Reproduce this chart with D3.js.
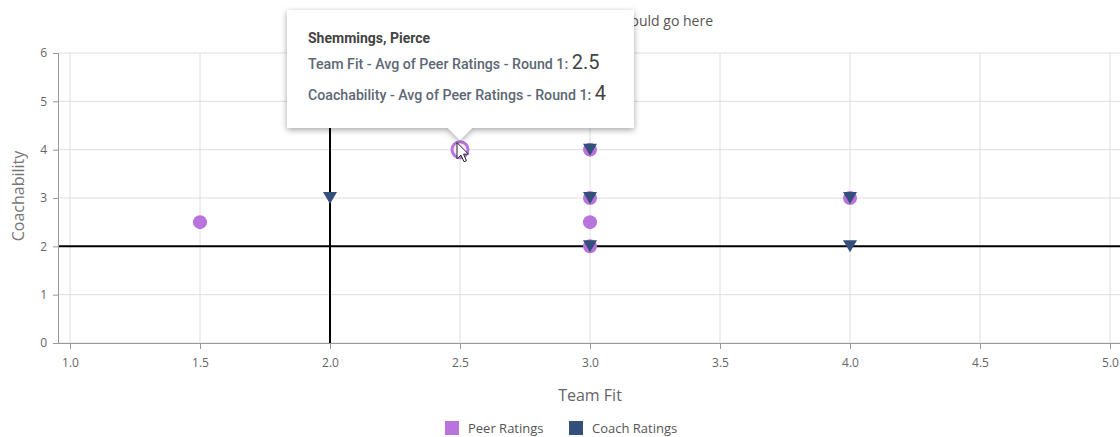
<!DOCTYPE html>
<meta charset="utf-8">
<title>Team Fit vs Coachability</title>
<body>
<script src="https://cdn.jsdelivr.net/npm/d3@7"></script>
<style>
html, body {
    margin: 0;
    background: #fff;
}
svg {
    display: block;
    font-family: "Open Sans", sans-serif;
}
.grid line {
    stroke: #dedede;
    stroke-width: 1;
}
.tick text {
    fill: #666;
    font-size: 12px;
}
</style>
<script>
var width = 1120,
    height = 437;

// data
var chartTitle = "Chart title would go here";
var seriesNames = ["Peer Ratings", "Coach Ratings"];
var peerFit = [1.5, 2.5, 3, 3, 3, 3, 4],
    peerCoach = [2.5, 4, 4, 3, 2.5, 2, 3];
var coachFit = [2, 3, 3, 3, 4, 4],
    coachCoach = [3, 4, 3, 2, 3, 2];
var xTicks = [1.0, 1.5, 2.0, 2.5, 3.0, 3.5, 4.0, 4.5, 5.0],
    yTicks = [0, 1, 2, 3, 4, 5, 6];
var refFit = 2,
    refCoach = 2;
var hoverName = "Shemmings, Pierce",
    hoverIndex = 1;

var colors = ["#b874dc", "#34507a"];

var svg = d3.select("body").append("svg")
    .attr("width", width)
    .attr("height", height);

// note: "top" is taken by window.top, so use plot* names
var plotLeft = 59, plotRight = 1125, plotTop = 53, plotBottom = 343;

var x = d3.scaleLinear().domain([1, 5]).range([70, 1110]),
    y = d3.scaleLinear().domain([0, 6]).range([plotBottom, plotTop]);

var defs = svg.append("defs");
defs.append("filter")
    .attr("id", "shadow")
    .attr("x", "-10%").attr("y", "-20%")
    .attr("width", "120%").attr("height", "150%")
  .append("feDropShadow")
    .attr("dx", 0).attr("dy", 2)
    .attr("stdDeviation", 3)
    .attr("flood-color", "#000")
    .attr("flood-opacity", 0.35);

// title
svg.append("text")
    .attr("x", 713)
    .attr("y", 26)
    .attr("text-anchor", "end")
    .attr("fill", "#555")
    .style("font-size", "14px")
    .text(chartTitle);

// grid
var grid = svg.append("g").attr("class", "grid");
grid.selectAll("line.v").data(xTicks).enter().append("line")
    .attr("class", "v")
    .attr("x1", function(d) { return x(d); })
    .attr("x2", function(d) { return x(d); })
    .attr("y1", plotTop).attr("y2", plotBottom);
grid.selectAll("line.h").data(yTicks).enter().append("line")
    .attr("class", "h")
    .attr("x1", plotLeft).attr("x2", plotRight)
    .attr("y1", function(d) { return y(d); })
    .attr("y2", function(d) { return y(d); });

// axes
var xAxis = svg.append("g")
    .attr("transform", "translate(0," + plotBottom + ")")
    .call(d3.axisBottom(x).tickValues(xTicks).tickFormat(d3.format(".1f")).tickSize(6).tickPadding(9));
var yAxis = svg.append("g")
    .attr("transform", "translate(" + plotLeft + ",0)")
    .call(d3.axisLeft(y).tickValues(yTicks).tickFormat(d3.format("d")).tickSize(6).tickPadding(6));
[xAxis, yAxis].forEach(function(a) {
    a.select(".domain").remove();
    a.selectAll(".tick line").attr("stroke", "#999");
    a.selectAll(".tick text").style("font-family", "Open Sans, sans-serif");
});
svg.append("line")
    .attr("x1", plotLeft).attr("x2", plotRight)
    .attr("y1", plotBottom + 0.5).attr("y2", plotBottom + 0.5)
    .attr("stroke", "#999");
svg.append("line")
    .attr("x1", plotLeft - 0.5).attr("x2", plotLeft - 0.5)
    .attr("y1", plotTop).attr("y2", plotBottom)
    .attr("stroke", "#999");

// axis titles
svg.append("text")
    .attr("x", 590).attr("y", 401)
    .attr("text-anchor", "middle")
    .attr("fill", "#666")
    .style("font-size", "16px")
    .text("Team Fit");
svg.append("text")
    .attr("transform", "translate(24,196) rotate(-90)")
    .attr("text-anchor", "middle")
    .attr("fill", "#777")
    .style("font-size", "16px")
    .text("Coachability");

// reference lines
svg.append("line")
    .attr("x1", plotLeft).attr("x2", plotRight)
    .attr("y1", y(refCoach)).attr("y2", y(refCoach))
    .attr("stroke", "#000").attr("stroke-width", 2);
svg.append("line")
    .attr("x1", x(refFit)).attr("x2", x(refFit))
    .attr("y1", plotTop).attr("y2", plotBottom)
    .attr("stroke", "#000").attr("stroke-width", 2);

// peer ratings
var peer = peerFit.map(function(d, i) { return {x: d, y: peerCoach[i], i: i}; });
svg.append("g").selectAll("circle").data(peer).enter().append("circle")
    .attr("cx", function(d) { return x(d.x); })
    .attr("cy", function(d) { return y(d.y); })
    .attr("r", function(d) { return d.i === hoverIndex ? 8 : 7; })
    .attr("fill", function(d) { return d.i === hoverIndex ? "#f4ecf9" : colors[0]; })
    .attr("stroke", function(d) { return d.i === hoverIndex ? colors[0] : "none"; })
    .attr("stroke-width", 3);

// coach ratings
var coach = coachFit.map(function(d, i) { return {x: d, y: coachCoach[i]}; });
svg.append("g").selectAll("path").data(coach).enter().append("path")
    .attr("transform", function(d) { return "translate(" + [x(d.x), y(d.y)] + ")"; })
    .attr("d", "M-7,-6L7,-6L0,6Z")
    .attr("fill", colors[1]);

// tooltip
var hp = peer[hoverIndex],
    hx = x(hp.x),
    hy = y(hp.y);
var tip = svg.append("g");
tip.append("path")
    .attr("d", "M287,10H634V128H" + (hx + 12) + "L" + hx + ",140L" + (hx - 12) + ",128H287Z")
    .attr("fill", "#fff")
    .attr("filter", "url(#shadow)");
var tipFont = "Roboto, sans-serif";
tip.append("text")
    .attr("x", 308).attr("y", 43)
    .attr("fill", "#444")
    .style("font-family", tipFont)
    .style("font-size", "14px")
    .style("font-weight", "bold")
    .text(hoverName);
[["Team Fit - Avg of Peer Ratings - Round 1: ", hp.x, 69],
 ["Coachability - Avg of Peer Ratings - Round 1: ", hp.y, 100]].forEach(function(r) {
    var t = tip.append("text")
        .attr("x", 308).attr("y", r[2])
        .style("font-family", tipFont);
    t.append("tspan")
        .attr("fill", "#5d6775")
        .style("font-size", "14.2px")
        .style("font-weight", 500)
        .text(r[0]);
    t.append("tspan")
        .attr("fill", "#444")
        .style("font-size", "20px")
        .text(r[1]);
});

// mouse cursor
svg.append("path")
    .attr("transform", "translate(" + [hx - 3, hy - 7] + ")")
    .attr("d", "M0,0L0,16L4,12.5L7,19L9.5,18L6.5,11.5L11.5,11.5Z")
    .attr("fill", "#fff")
    .attr("stroke", "#222")
    .attr("stroke-width", 1)
    .attr("stroke-linejoin", "round");

// legend
var legend = svg.append("g").selectAll("g").data(seriesNames).enter().append("g")
    .attr("transform", function(d, i) { return "translate(" + [445 + i * 124, 421] + ")"; });
legend.append("rect")
    .attr("width", 14).attr("height", 14)
    .attr("fill", function(d, i) { return colors[i]; });
legend.append("text")
    .attr("x", 23).attr("y", 12)
    .attr("fill", "#555")
    .style("font-size", "13px")
    .text(function(d) { return d; });
</script>
